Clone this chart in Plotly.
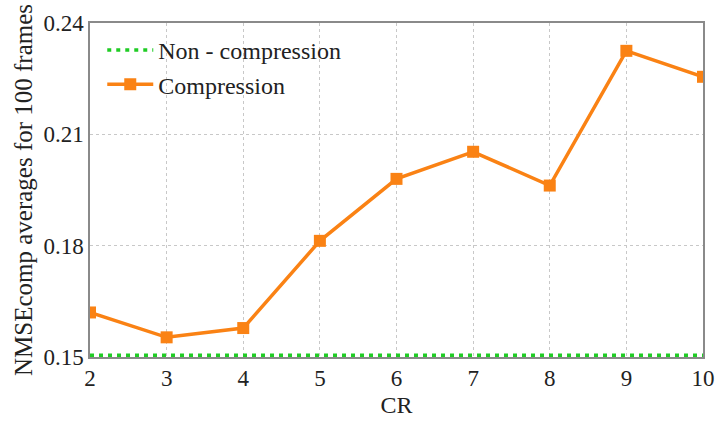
import plotly.graph_objects as go

cr = [2, 3, 4, 5, 6, 7, 8, 9, 10]
compression = [0.162, 0.1553, 0.1578, 0.1813, 0.198, 0.2053, 0.1962, 0.2325, 0.2255]
non_compression = [0.1505] * len(cr)
y_ticks = [0.15, 0.18, 0.21, 0.24]

font_family = "Times New Roman"

fig = go.Figure()
fig.add_trace(go.Scatter(
    x=cr, y=non_compression, mode="lines", name="Non - compression",
    line=dict(color="#1FCC24", width=3.5, dash="4px,5px"),
))
fig.add_trace(go.Scatter(
    x=cr, y=compression, mode="lines+markers", name="Compression",
    line=dict(color="#FA8214", width=3.5),
    marker=dict(symbol="square", size=12, color="#FA8214"),
))

axis_common = dict(
    showline=True, linecolor="#8a8a8a", linewidth=1.5, mirror=True,
    showgrid=True, gridcolor="#c8c8c8", griddash="dot", gridwidth=1,
    ticks="", zeroline=False, automargin=False,
    tickfont=dict(family=font_family, size=23, color="#222"),
)

fig.update_layout(
    width=716, height=421,
    margin=dict(l=90, r=13, t=23, b=64),
    paper_bgcolor="white", plot_bgcolor="white",
    font=dict(family=font_family, size=23, color="#222"),
    showlegend=True,
    legend=dict(x=0.02, y=0.985, xanchor="left", yanchor="top",
                bgcolor="rgba(0,0,0,0)", font=dict(size=24, family=font_family),
                itemwidth=46, tracegroupgap=0),
    xaxis=dict(range=[2, 10], tickvals=cr, title=dict(text="CR", standoff=6,
               font=dict(size=24, family=font_family)), **axis_common),
    yaxis=dict(range=[0.15, 0.24], tickvals=y_ticks, tickformat=".2f",
               title=dict(text="NMSEcomp averages for 100 frames", standoff=4,
                          font=dict(size=25, family=font_family)), **axis_common),
)

fig.write_html("out.html")
